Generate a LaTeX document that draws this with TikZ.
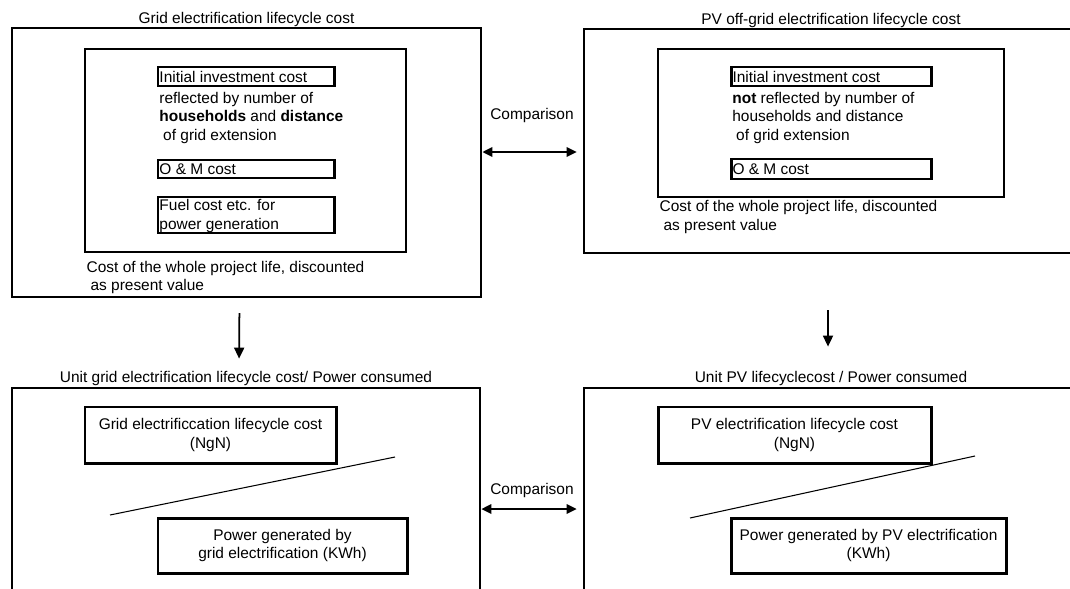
\documentclass[tikz,border=0pt]{standalone}
\usepackage{fontspec}
\setmainfont{Liberation Sans}
\usetikzlibrary{fit,positioning}
\usetikzlibrary{arrows.meta}

\begin{document}
\begin{tikzpicture}[x=0.02cm,y=-0.02cm]
    \tikzstyle{every node} = [font=\fontsize{8.8pt}{10.5pt}\selectfont, inner sep=0pt]
    \tikzstyle{frame} = [draw, line width=1.6pt, inner sep=0pt]
    \tikzstyle{costbox} = [draw, line width=1.7pt, inner sep=0pt]
    \tikzstyle{txt} = [align=left]
    \tikzstyle{downarr} = [-{Triangle[length=0.22cm,width=0.2cm]}, line width=1pt]
    \tikzstyle{cmparr} = [{Triangle[length=0.2cm,width=0.19cm]}-{Triangle[length=0.2cm,width=0.19cm]}, line width=1pt]
    \useasboundingbox (0,0) rectangle (1070,588);
    \clip (0,0) rectangle (1070,588);

    % grid electrification, top left
    \node[frame, fit={(12,28) (481,297)}] (gridlcc) {};
    \node[above=0pt of gridlcc] (gridlccttl) {Grid electrification lifecycle cost};
    \node[frame, fit={(85,49) (406,252)}] (gridcost) {};
    \node[costbox, fit={(158,67) (334,86)}] (gridinit) {};
    \node[txt, anchor=west, inner xsep=1.5pt] (gridinittxt) at (gridinit.west) {Initial investment cost};
    \node[txt, below right=0.09cm and 0.05cm of gridinit.south west] (gridinitmore) {reflected by number of\\ \textbf{households} and \textbf{distance}\\ \hspace*{0.25em}of grid extension};
    \node[costbox, fit={(158,160) (334,178)}] (gridom) {};
    \node[txt, anchor=west, inner xsep=1.5pt] (gridomtxt) at (gridom.west) {O \& M cost};
    \node[costbox, fit={(158,197) (334,233)}] (gridfuel) {};
    \node[txt, anchor=west, inner xsep=1.5pt, yshift=-0.02cm] (gridfueltxt) at (gridfuel.west) {Fuel cost etc. for\\power generation};
    \node[txt, below right=0.145cm and 0.055cm of gridcost.south west] (gridlife) {Cost of the whole project life, discounted\\ \hspace*{0.25em}as present value};

    % PV off-grid electrification, top right
    \node[frame, fit={(584,29) (1078,253)}] (pvlcc) {};
    \node[above=0pt of pvlcc] (pvlccttl) {PV off-grid electrification lifecycle cost};
    \node[frame, fit={(658,49) (1004,197)}] (pvcost) {};
    \node[costbox, fit={(731,67) (931,86)}] (pvinit) {};
    \node[txt, anchor=west, inner xsep=1.5pt] (pvinittxt) at (pvinit.west) {Initial investment cost};
    \node[txt, below right=0.09cm and 0.05cm of pvinit.south west] (pvinitmore) {\textbf{not} reflected by number of\\households and distance\\ \hspace*{0.25em}of grid extension};
    \node[costbox, fit={(731,159) (931,179)}] (pvom) {};
    \node[txt, anchor=west, inner xsep=1.5pt] (pvomtxt) at (pvom.west) {O \& M cost};
    \node[txt, below right=0.04cm and 0.055cm of pvcost.south west] (pvlife) {Cost of the whole project life, discounted\\ \hspace*{0.25em}as present value};

    % unit cost, bottom left
    \node[frame, fit={(12,388) (480,640)}] (gridunit) {};
    \node[above=0.5pt of gridunit] (gridunitttl) {Unit grid electrification lifecycle cost/ Power consumed};
    \node[costbox, fit={(85,407) (336,463)}] (gridngn) {};
    \node[align=center] (gridngntxt) at (gridngn) {Grid electrificcation lifecycle cost\\(NgN)};
    \node[costbox, fit={(158,518) (407,573)}] (gridpower) {};
    \node[align=center] (gridpowertxt) at (gridpower) {Power generated by\\grid electrification (KWh)};
    \draw[line width=0.6pt] (110,515) -- (395,457);

    % unit cost, bottom right
    \node[frame, fit={(584,388) (1078,640)}] (pvunit) {};
    \node[above=0.5pt of pvunit] (pvunitttl) {Unit PV lifecyclecost / Power consumed};
    \node[costbox, fit={(658,407) (931,463)}] (pvngn) {};
    \node[align=center] (pvngntxt) at (pvngn) {PV electrification lifecycle cost\\(NgN)};
    \node[costbox, fit={(731,518) (1006,573)}] (pvpower) {};
    \node[align=center] (pvpowertxt) at (pvpower) {Power generated by PV electrification\\(KWh)};
    \draw[line width=0.6pt] (690,518) -- (975,456);

    % comparisons
    \coordinate (cmptop) at (532,152);
    \node[above=0.57cm of cmptop] (cmptoplbl) {Comparison};
    \draw[cmparr, shorten >=0.12cm] (cmptop -| gridlcc.east) -- (cmptop -| pvlcc.west);
    \coordinate (cmpbot) at (532,509);
    \node[above=0.21cm of cmpbot] (cmpbotlbl) {Comparison};
    \draw[cmparr, shorten >=0.12cm] (cmpbot -| gridunit.east) -- (cmpbot -| pvunit.west);

    \draw[downarr, shorten <=0.295cm, shorten >=0.24cm] ([xshift=-0.14cm]gridlcc.south) -- ([xshift=-0.14cm]gridunitttl.north);
    \draw[downarr, shorten <=1.115cm, shorten >=0.48cm] ([xshift=-0.06cm]pvlcc.south) -- ([xshift=-0.06cm]pvunitttl.north);

\end{tikzpicture}
\end{document}
